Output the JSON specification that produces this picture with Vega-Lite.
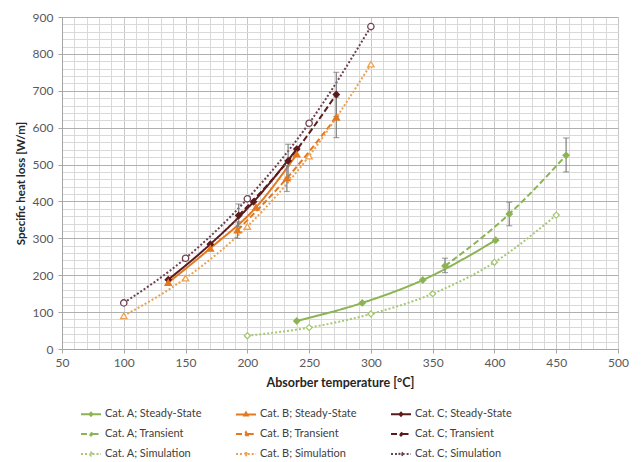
{
  "$schema": "https://vega.github.io/schema/vega-lite/v6.json",
  "width": 556,
  "height": 332,
  "autosize": "none",
  "padding": {"left": 62, "top": 17, "right": 23, "bottom": 113},
  "background": "white",
  "config": {
    "font": "Lato",
    "view": {"stroke": null},
    "axis": {"labelFont": "Lato", "titleFont": "Lato", "labelColor": "#595959", "titleColor": "#262626", "domainColor": "#a6a6a6", "tickColor": "#a6a6a6"}
  },
  "data": {"values": [
    {"series": "Cat. A; Steady-State", "cat": "A", "T": 240, "Q": 76},
    {"series": "Cat. A; Steady-State", "cat": "A", "T": 293, "Q": 125},
    {"series": "Cat. A; Steady-State", "cat": "A", "T": 342, "Q": 187},
    {"series": "Cat. A; Steady-State", "cat": "A", "T": 401, "Q": 295},
    {"series": "Cat. A; Transient", "cat": "A", "T": 360, "Q": 225, "lo": 207, "hi": 246},
    {"series": "Cat. A; Transient", "cat": "A", "T": 412, "Q": 366, "lo": 334, "hi": 398},
    {"series": "Cat. A; Transient", "cat": "A", "T": 458, "Q": 525, "lo": 480, "hi": 572},
    {"series": "Cat. A; Simulation", "cat": "A", "T": 200, "Q": 36},
    {"series": "Cat. A; Simulation", "cat": "A", "T": 250, "Q": 58},
    {"series": "Cat. A; Simulation", "cat": "A", "T": 300, "Q": 95},
    {"series": "Cat. A; Simulation", "cat": "A", "T": 350, "Q": 150},
    {"series": "Cat. A; Simulation", "cat": "A", "T": 400, "Q": 235},
    {"series": "Cat. A; Simulation", "cat": "A", "T": 450, "Q": 363},
    {"series": "Cat. B; Steady-State", "cat": "B", "T": 136, "Q": 180},
    {"series": "Cat. B; Steady-State", "cat": "B", "T": 170, "Q": 273},
    {"series": "Cat. B; Steady-State", "cat": "B", "T": 207, "Q": 384},
    {"series": "Cat. B; Steady-State", "cat": "B", "T": 240, "Q": 528},
    {"series": "Cat. B; Transient", "cat": "B", "T": 192, "Q": 322, "lo": 300, "hi": 345},
    {"series": "Cat. B; Transient", "cat": "B", "T": 232, "Q": 463, "lo": 427, "hi": 497},
    {"series": "Cat. B; Transient", "cat": "B", "T": 272, "Q": 628, "lo": 573, "hi": 683},
    {"series": "Cat. B; Simulation", "cat": "B", "T": 100, "Q": 90},
    {"series": "Cat. B; Simulation", "cat": "B", "T": 150, "Q": 192},
    {"series": "Cat. B; Simulation", "cat": "B", "T": 200, "Q": 332},
    {"series": "Cat. B; Simulation", "cat": "B", "T": 250, "Q": 523},
    {"series": "Cat. B; Simulation", "cat": "B", "T": 300, "Q": 772},
    {"series": "Cat. C; Steady-State", "cat": "C", "T": 136, "Q": 188},
    {"series": "Cat. C; Steady-State", "cat": "C", "T": 170, "Q": 284},
    {"series": "Cat. C; Steady-State", "cat": "C", "T": 205, "Q": 399},
    {"series": "Cat. C; Steady-State", "cat": "C", "T": 240, "Q": 542},
    {"series": "Cat. C; Transient", "cat": "C", "T": 193, "Q": 362, "lo": 331, "hi": 393},
    {"series": "Cat. C; Transient", "cat": "C", "T": 233, "Q": 510, "lo": 465, "hi": 555},
    {"series": "Cat. C; Transient", "cat": "C", "T": 272, "Q": 690, "lo": 630, "hi": 750},
    {"series": "Cat. C; Simulation", "cat": "C", "T": 100, "Q": 125},
    {"series": "Cat. C; Simulation", "cat": "C", "T": 150, "Q": 246},
    {"series": "Cat. C; Simulation", "cat": "C", "T": 200, "Q": 407},
    {"series": "Cat. C; Simulation", "cat": "C", "T": 250, "Q": 612},
    {"series": "Cat. C; Simulation", "cat": "C", "T": 300, "Q": 874}
  ]},
  "encoding": {
    "x": {"field": "T", "type": "quantitative", "scale": {"domain": [50, 500], "nice": false, "zero": false},
      "axis": {"title": "Absorber temperature [°C]", "titleFontSize": 12.5, "titleFontWeight": "bold", "titlePadding": 8,
        "labelFontSize": 12, "labelPadding": 4, "tickSize": 4,
        "values": [50,60,70,80,90,100,110,120,130,140,150,160,170,180,190,200,210,220,230,240,250,260,270,280,290,300,310,320,330,340,350,360,370,380,390,400,410,420,430,440,450,460,470,480,490,500],
        "labelExpr": "datum.value % 50 === 0 ? datum.label : ''",
        "tickOpacity": {"condition": {"test": "datum.value % 50 === 0", "value": 1}, "value": 0},
        "gridColor": {"condition": {"test": "datum.value % 50 === 0", "value": "#c8c8c8"}, "value": "#d9d9d9"},
        "gridWidth": 1, "labelFlush": false}},
    "y": {"field": "Q", "type": "quantitative", "title": "Specific heat loss [W/m]", "scale": {"domain": [0, 900], "nice": false},
      "axis": {"title": "Specific heat loss [W/m]", "titleFontSize": 11.5, "titleFontWeight": "bold", "titlePadding": 6,
        "labelFontSize": 12, "labelPadding": 5, "tickSize": 4,
        "values": [0,20,40,60,80,100,120,140,160,180,200,220,240,260,280,300,320,340,360,380,400,420,440,460,480,500,520,540,560,580,600,620,640,660,680,700,720,740,760,780,800,820,840,860,880,900],
        "labelExpr": "datum.value % 100 === 0 ? datum.label : ''",
        "tickOpacity": {"condition": {"test": "datum.value % 100 === 0", "value": 1}, "value": 0},
        "gridColor": {"condition": {"test": "datum.value % 100 === 0", "value": "#b0b0b0"}, "value": "#d9d9d9"},
        "gridWidth": 1}}
  },
  "layer": [
    {
      "transform": [{"filter": "false"}],
      "mark": {"type": "point", "opacity": 1, "filled": false},
      "encoding": {
        "stroke": {"field": "series", "type": "nominal",
          "scale": {"domain": ["Cat. A; Steady-State", "Cat. A; Transient", "Cat. A; Simulation", "Cat. B; Steady-State", "Cat. B; Transient", "Cat. B; Simulation", "Cat. C; Steady-State", "Cat. C; Transient", "Cat. C; Simulation"],
            "range": ["#8cb453", "#8cb453", "#a6c774", "#e3781e", "#e3781e", "#eea04e", "#5c1a1c", "#5c1a1c", "#6e4250"]},
          "legend": {"title": null, "orient": "none", "legendX": 18, "legendY": 386, "columns": 3, "columnPadding": 30, "rowPadding": 3,
            "symbolSize": 400, "symbolStrokeWidth": 2, "labelFontSize": 11, "labelFont": "Lato", "labelColor": "#404040", "labelOffset": 3, "labelLimit": 200}},
        "fill": {"field": "series", "type": "nominal",
          "scale": {"domain": ["Cat. A; Steady-State", "Cat. A; Transient", "Cat. A; Simulation", "Cat. B; Steady-State", "Cat. B; Transient", "Cat. B; Simulation", "Cat. C; Steady-State", "Cat. C; Transient", "Cat. C; Simulation"],
            "range": ["#8cb453", "#8cb453", "#ffffff", "#e3781e", "#e3781e", "#ffffff", "#5c1a1c", "#5c1a1c", "#ffffff"]}},
        "strokeDash": {"field": "series", "type": "nominal",
          "scale": {"domain": ["Cat. A; Steady-State", "Cat. A; Transient", "Cat. A; Simulation", "Cat. B; Steady-State", "Cat. B; Transient", "Cat. B; Simulation", "Cat. C; Steady-State", "Cat. C; Transient", "Cat. C; Simulation"],
            "range": [[1, 0], [6, 3], [2, 2], [1, 0], [6, 3], [2, 2], [1, 0], [6, 3], [2, 2]]}},
        "shape": {"field": "series", "type": "nominal",
          "scale": {"domain": ["Cat. A; Steady-State", "Cat. A; Transient", "Cat. A; Simulation", "Cat. B; Steady-State", "Cat. B; Transient", "Cat. B; Simulation", "Cat. C; Steady-State", "Cat. C; Transient", "Cat. C; Simulation"],
            "range": [
              "M-1,0H-0.15M0.15,0H1M0,-0.15L0.15,0L0,0.15L-0.15,0Z",
              "M-1,0H-0.15M0.15,0H1M0,-0.15L0.15,0L0,0.15L-0.15,0Z",
              "M-1,0H-0.15M0.15,0H1M0,-0.15L0.15,0L0,0.15L-0.15,0Z",
              "M-1,0H-0.17M0.17,0H1M0,-0.18L0.17,0.12L-0.17,0.12Z",
              "M-1,0H-0.17M0.17,0H1M0,-0.18L0.17,0.12L-0.17,0.12Z",
              "M-1,0H-0.17M0.17,0H1M0,-0.18L0.17,0.12L-0.17,0.12Z",
              "M-1,0H-0.15M0.15,0H1M0,-0.15L0.15,0L0,0.15L-0.15,0Z",
              "M-1,0H-0.15M0.15,0H1M0,-0.15L0.15,0L0,0.15L-0.15,0Z",
              "M-1,0H-0.16M0.16,0H1M0.16,0L0.113,0.113L0,0.16L-0.113,0.113L-0.16,0L-0.113,-0.113L0,-0.16L0.113,-0.113Z"
            ]}}
      }
    },
    {
      "mark": {"type": "line", "interpolate": "monotone", "strokeWidth": 2},
      "encoding": {
        "detail": {"field": "series"},
        "stroke": {"field": "series", "type": "nominal"},
        "strokeDash": {"field": "series", "type": "nominal"}
      }
    },
    {
      "transform": [{"filter": "isValid(datum.lo)"}],
      "mark": {"type": "rule", "color": "#7f7f7f", "strokeWidth": 1.2},
      "encoding": {"y": {"field": "lo", "type": "quantitative", "title": "Specific heat loss [W/m]"}, "y2": {"field": "hi"}}
    },
    {
      "transform": [{"filter": "isValid(datum.lo)"}],
      "mark": {"type": "tick", "orient": "horizontal", "color": "#7f7f7f", "size": 6, "thickness": 1.2},
      "encoding": {"y": {"field": "lo", "type": "quantitative", "title": "Specific heat loss [W/m]"}}
    },
    {
      "transform": [{"filter": "isValid(datum.lo)"}],
      "mark": {"type": "tick", "orient": "horizontal", "color": "#7f7f7f", "size": 6, "thickness": 1.2},
      "encoding": {"y": {"field": "hi", "type": "quantitative", "title": "Specific heat loss [W/m]"}}
    },
    {
      "transform": [{"filter": "datum.cat == 'A' || datum.series == 'Cat. C; Steady-State' || datum.series == 'Cat. C; Transient'"}],
      "mark": {"type": "point", "shape": "diamond", "size": 36, "opacity": 1, "strokeWidth": 1.3, "filled": false},
      "encoding": {
        "stroke": {"field": "series", "type": "nominal"},
        "fill": {"field": "series", "type": "nominal"}
      }
    },
    {
      "transform": [{"filter": "datum.cat == 'B'"}],
      "mark": {"type": "point", "shape": "triangle-up", "size": 40, "opacity": 1, "strokeWidth": 1.3, "filled": false},
      "encoding": {
        "stroke": {"field": "series", "type": "nominal"},
        "fill": {"field": "series", "type": "nominal"}
      }
    },
    {
      "transform": [{"filter": "datum.series == 'Cat. C; Simulation'"}],
      "mark": {"type": "point", "shape": "circle", "size": 40, "opacity": 1, "strokeWidth": 1.3, "filled": false},
      "encoding": {
        "stroke": {"field": "series", "type": "nominal"},
        "fill": {"field": "series", "type": "nominal"}
      }
    }
  ]
}
